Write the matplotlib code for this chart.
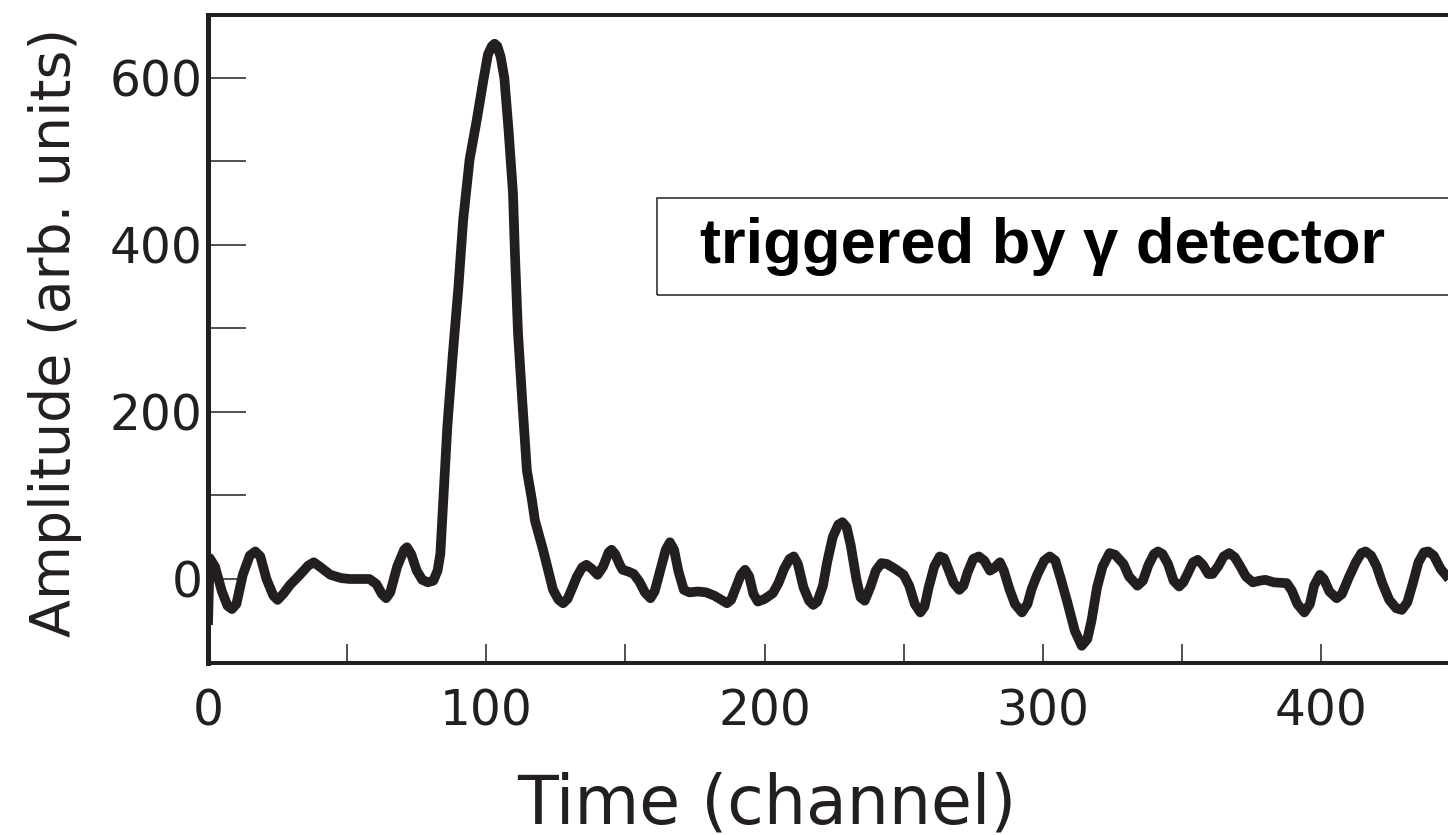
import matplotlib
matplotlib.use("Agg")
import matplotlib.pyplot as plt
from matplotlib.patches import Rectangle
from matplotlib.ticker import FixedLocator

# ---- data ----
channel = [0, 0.6, 2.5, 5, 7, 8.6, 10.2, 12.5, 15, 17, 18.8, 21, 23.5, 25, 27, 29.5, 33, 36,
           38, 40.5, 44, 48, 51, 58, 60.5, 62.5, 64, 65.5, 68, 70.5, 71.5, 73, 75, 77, 79,
           81, 82.5, 83.5, 84.5, 86, 88, 90, 91.7, 94, 96.6, 99, 100.6, 102, 103, 104,
           105.2, 106.5, 108, 109.6, 110.3, 111.4, 113, 114.6, 116.4, 117.5, 120.4, 124,
           126, 127.6, 129.2, 131, 132.6, 134.5, 136, 138, 140, 142, 144, 145, 146.3, 148,
           149, 151, 153, 155, 157, 159, 160.5, 162.5, 164.5, 166, 167.5, 169, 171, 173,
           176, 179, 182, 186.5, 188, 190, 191.5, 193, 194.5, 196, 197.6, 200, 203, 205,
           207, 209, 210.5, 212, 214, 216, 217.5, 219, 221, 222.5, 224.5, 226.5, 228,
           229.5, 231, 233, 234.5, 236, 238, 240, 242, 244, 247, 250, 252, 254, 256,
           257.5, 259, 261, 263, 264.5, 266, 268, 270, 271.5, 273, 275, 277, 279, 281,
           282.5, 284.6, 286, 288, 290, 292.5, 294.5, 296, 298, 300.5, 302.5, 304.5,
           306.5, 309, 311.5, 314, 316, 317.5, 319.5, 321.5, 324, 326, 329, 331, 334, 336,
           338, 340, 341.4, 343, 345, 347, 349, 350.5, 352, 354, 355.7, 357.5, 359.5,
           361, 363, 365, 367, 369, 371, 373, 375.5, 378, 380, 383, 387.7, 389.5, 391.5,
           394, 396, 397.5, 399.6, 401, 403, 405.6, 407.5, 410, 412.5, 414.5, 416, 418,
           420, 422, 424.5, 427, 429, 431, 433, 435, 437, 438.5, 440.5, 443, 446]
amplitude = [-55, 25, 15, -15, -32, -36, -30, 5, 28, 33, 27, 0, -20, -25, -18, -7, 5, 16,
             20, 14, 5, 1, 0, 0, -6, -18, -23, -16, 15, 35, 38, 30, 10, -1, -4,
             -2, 10, 30, 91, 182, 270, 350, 430, 502, 550, 598, 628, 638, 641, 638,
             625, 600, 538, 462, 390, 295, 210, 130, 95, 70, 35, -13,
             -25, -29, -24, -10, 3, 14, 17, 12, 5, 15, 32, 35, 30, 17,
             11, 9, 6, -3, -16, -23, -15, 10, 35, 44, 35, 10, -13, -16,
             -15, -16, -20, -29, -25, -8, 5, 11, 3, -18, -27, -24, -17, -5,
             12, 24, 27, 18, -10, -26, -31, -27, -8, 20, 50, 65, 68,
             62, 40, 0, -22, -26, -10, 10, 19, 18, 12, 5, -8, -30, -40,
             -33, -10, 15, 27, 25, 12, -5, -13, -8, 8, 24, 27, 22, 10,
             13, 20, 10, -12, -30, -40, -30, -12, 5, 22, 27, 22,
             0, -30, -62, -80, -72, -50, -10, 15, 31, 29, 18, 3, -8, -2,
             17, 30, 33, 30, 18, -2, -9, -4, 6, 20, 23, 17, 6,
             6, 15, 27, 31, 26, 15, 3, -4, -2, -1, -4, -5, -14, -30,
             -40, -30, -8, 5, 0, -15, -23, -18, 2, 20, 31, 33, 28,
             15, -5, -25, -35, -37, -28, -5, 20, 32, 33, 28, 12, 0]

y_ticks = [0, 100, 200, 300, 400, 500, 600]
y_labels = ["0", "", "200", "", "400", "", "600"]
x_ticks = [0, 50, 100, 150, 200, 250, 300, 350, 400, 450]
x_labels = ["0", "", "100", "", "200", "", "300", "", "400", ""]

x_label = "Time (channel)"
y_label = "Amplitude (arb. units)"
box_text = "triggered by γ detector"

ink = "#231f20"

fig = plt.figure(figsize=(14.48, 8.35), dpi=100)
W, H = 1448, 835
x0_px, x1_px = 208, 1488
y_top_px, y_bot_px = 15, 663
ax = fig.add_axes([x0_px / W, (H - y_bot_px) / H, (x1_px - x0_px) / W, (y_bot_px - y_top_px) / H])

ax.plot(channel, amplitude, color=ink, lw=7, solid_joinstyle="round", solid_capstyle="butt")

ax.set_xlim(0, 460)
ax.set_ylim(-100.6, 675.4)

ax.xaxis.set_major_locator(FixedLocator(x_ticks))
ax.yaxis.set_major_locator(FixedLocator(y_ticks))
ax.set_xticklabels(x_labels)
ax.set_yticklabels(y_labels)

font = "DejaVu Sans"
ax.tick_params(axis="y", direction="in", length=27, width=1.1, color=ink,
               labelsize=35, labelcolor=ink, pad=4)
ax.tick_params(axis="x", direction="in", length=14, width=1.1, color=ink,
               labelsize=35, labelcolor=ink, pad=18)
for lab in ax.get_xticklabels() + ax.get_yticklabels():
    lab.set_fontfamily(font)

for side, lw in (("left", 3.6), ("bottom", 2.9), ("top", 2.9)):
    ax.spines[side].set_linewidth(lw)
    ax.spines[side].set_color(ink)
ax.spines["right"].set_visible(False)

ax.set_xlabel(x_label, fontsize=48, family=font, color=ink)
ax.xaxis.set_label_coords((767 - x0_px) / (x1_px - x0_px), -(771 - y_bot_px) / (y_bot_px - y_top_px))
ax.set_ylabel(y_label, fontsize=40, family=font, color=ink)
ax.yaxis.set_label_coords((82 - x0_px) / (x1_px - x0_px), (y_bot_px - 332) / (y_bot_px - y_top_px))

# annotation box
ax.add_patch(Rectangle((161.3, 340), 400, 116, fill=False, edgecolor=ink, lw=1.1, clip_on=True))
ax.text(176.8, 398, box_text, fontsize=45.5, fontweight="bold", family="Liberation Sans",
        color="black", ha="left", va="center")

fig.savefig("out.png", dpi=100)
